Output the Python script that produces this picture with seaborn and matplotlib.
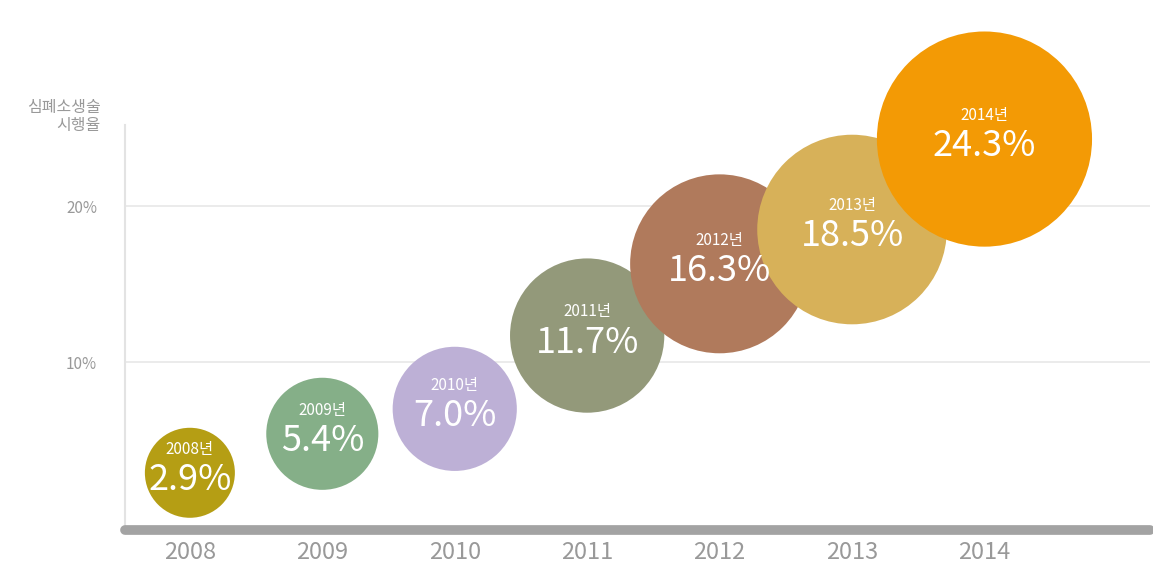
import matplotlib
matplotlib.use("Agg")
import matplotlib.pyplot as plt
import seaborn as sns
import pandas as pd

# 데이터
years = ["2008", "2009", "2010", "2011", "2012", "2013", "2014"]
rates = [2.9, 5.4, 7.0, 11.7, 16.3, 18.5, 24.3]
colors = ["#B59E14", "#85AF88", "#BDB0D6", "#93997A", "#B07A5C", "#D7B159", "#F39A05"]
y_ticks = [10, 20]
y_tick_labels = ["10%", "20%"]

df = pd.DataFrame({"year": years, "rate": rates})

sns.set_theme(style="white")
plt.rcParams["font.family"] = ["Noto Sans CJK KR", "DejaVu Sans"]

fig = plt.figure(figsize=(11.53, 5.72), dpi=100)
ax = fig.add_axes([0.1084, 0.0734, 0.889, 0.708])

# 그리드
for t in y_ticks:
    ax.axhline(t, color="#e8e8e8", lw=1.2, zorder=0)

sns.scatterplot(data=df, x="year", y="rate", hue="year", palette=colors,
                size="rate", sizes=(4200, 24000), legend=False,
                linewidth=0, alpha=1, ax=ax, clip_on=False, zorder=3)

for i, (yr, r) in enumerate(zip(years, rates)):
    ax.annotate(yr + "년", (i, r), xytext=(0, 17), textcoords="offset points",
                ha="center", va="center", color="white", fontsize=11, zorder=5)
    ax.annotate(f"{r:.1f}%", (i, r), xytext=(0, -5), textcoords="offset points",
                ha="center", va="center", color="white", fontsize=26, zorder=5)

ax.set_xlim(-0.49, 7.25)
ax.set_ylim(-0.77, 25.2)
ax.set_yticks(y_ticks)
ax.set_yticklabels(y_tick_labels)
ax.set_xlabel("")
ax.set_ylabel("")
ax.tick_params(axis="y", length=0, pad=20, labelsize=11, labelcolor="#999999")
ax.tick_params(axis="x", length=0, pad=8, labelsize=17, labelcolor="#999999")

for s in ["top", "right"]:
    ax.spines[s].set_visible(False)
ax.spines["left"].set_color("#e3e3e3")
ax.spines["left"].set_linewidth(1.5)
ax.spines["bottom"].set_color("#a3a3a3")
ax.spines["bottom"].set_linewidth(7)
ax.spines["bottom"].set_capstyle("round")
ax.spines["bottom"].set_zorder(6)

ax.text(-0.024, 1.065, "심폐소생술\n시행율", transform=ax.transAxes,
        ha="right", va="top", fontsize=11.5, color="#999999", linespacing=1.1)

plt.savefig("out.png", dpi=100)
